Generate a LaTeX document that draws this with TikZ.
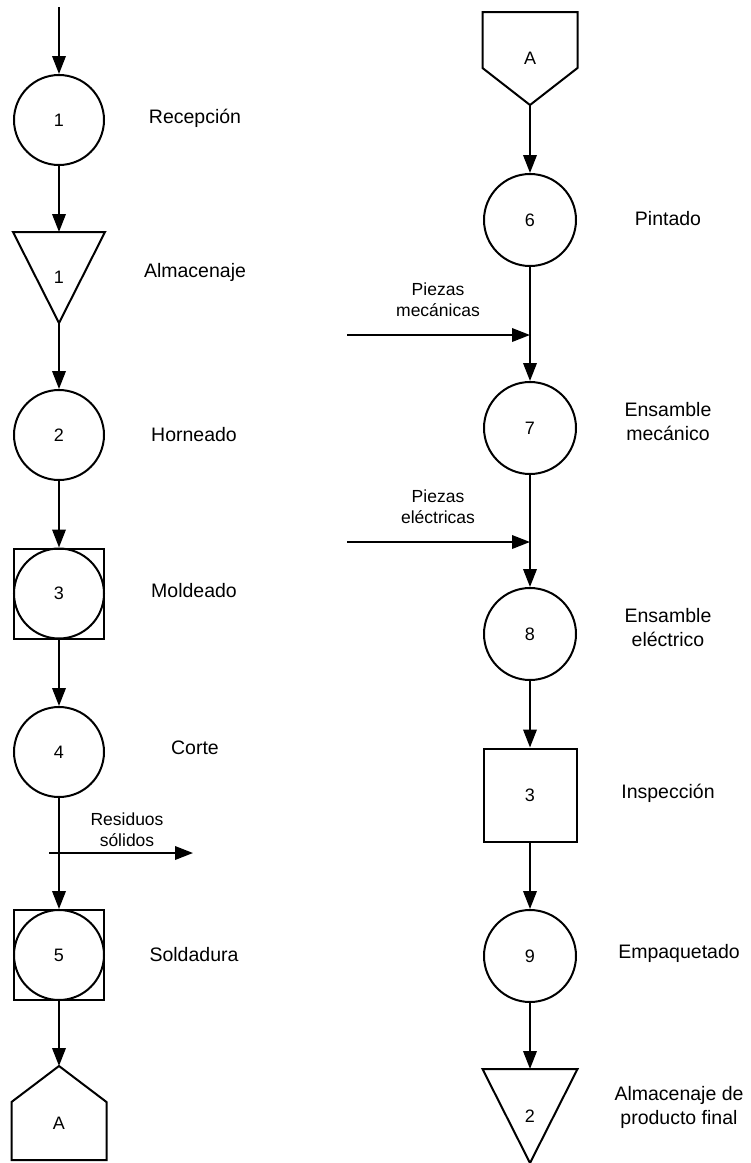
\documentclass[tikz,border=0pt]{standalone}
\usepackage{fontspec}
\setmainfont{Liberation Sans}
\usetikzlibrary{arrows.meta,calc}

\begin{document}
\begin{tikzpicture}[x=1pt,y=-1pt,line width=2pt,
  arr/.style={-{Triangle[length=18pt,width=13.5pt]}},
  numfont/.style={font=\fontsize{18}{20}\selectfont},
  op/.style={circle,draw,minimum size=#1,inner sep=0pt,numfont},
  op/.default=90pt,
  combo/.style={rectangle,draw,minimum size=90pt,inner sep=0pt,numfont},
  insp/.style={rectangle,draw,minimum size=93pt,inner sep=0pt,numfont},
  shapebox/.style={rectangle,draw=none,inner sep=0pt,minimum width=#1,numfont},
  lbl/.style={font=\fontsize{19.5}{24}\selectfont,align=center,inner sep=0pt},
  sml/.style={font=\fontsize{17.5}{21}\selectfont,align=center,inner sep=0pt}]
\useasboundingbox (0,0) rectangle (751,1163);

% ---------- left column ----------
\coordinate (start) at (59,7);
\node[op] (o1) at (59,120) {1};
\node[shapebox=90pt,minimum height=89pt] (s1) at (59,277.5) {1};
\draw[line join=miter] (s1.north west) -- (s1.north east) -- (s1.south) -- cycle;
\node[op] (o2) at (59,435) {2};
\node[combo] (c3) at (59,593.5) {3};
\draw (c3.center) circle[radius=45pt];
\node[op] (o4) at (59,752) {4};
\coordinate (r0) at (49,853);
\coordinate (r1) at (193,853);
\node[combo] (c5) at (59,955) {5};
\draw (c5.center) circle[radius=45pt];
\node[shapebox=93pt,minimum height=92pt] (a1) at (59,1113) {};
\node[numfont,inner sep=0pt] (a1t) at (59,1123) {A};
\draw[line join=miter] (a1.north) -- ($(a1.north east)+(0,36)$) -- (a1.south east)
  -- (a1.south west) -- ($(a1.north west)+(0,36)$) -- cycle;

\draw[arr] (start) -- (o1);
\draw[arr] (o1) -- (s1.north);
\draw[arr] (s1.south) -- (o2);
\draw[arr] (o2) -- (c3.north);
\draw[arr] (c3.south) -- (o4);
\draw[arr] (o4) -- (c5.north);
\draw[arr] (c5.south) -- (a1.north);
\draw[arr] (r0) -- (r1);

\node[lbl] (l1) at (195,118) {Recepción};
\node[lbl] (l2) at (195,272) {Almacenaje};
\node[lbl] (l3) at (194,435) {Horneado};
\node[lbl] (l4) at (194,591) {Moldeado};
\node[lbl] (l5) at (195,748) {Corte};
\node[sml] (l6) at (127,830) {Residuos\\sólidos};
\node[lbl] (l7) at (194,955) {Soldadura};

% ---------- right column ----------
\node[shapebox=93pt,minimum height=91pt] (a2) at (530,58.5) {A};
\draw[line join=miter] (a2.north west) -- (a2.north east) -- ($(a2.north east)+(0,56)$)
  -- (a2.south) -- ($(a2.north west)+(0,56)$) -- cycle;
\node[op=92pt] (o6) at (530,220) {6};
\coordinate (j1) at (530,335);
\coordinate (m0) at (347,335);
\node[op=92pt] (o7) at (530,428) {7};
\coordinate (j2) at (530,542);
\coordinate (e0) at (347,542);
\node[op=92pt] (o8) at (530,634) {8};
\node[insp] (i3) at (530,795) {3};
\node[op=92pt] (o9) at (530,956) {9};
\node[shapebox=93pt,minimum height=92pt] (s2) at (530,1116) {2};
\draw[line join=miter] (s2.north west) -- (s2.north east) -- (s2.south) -- cycle;

\draw[arr] (a2.south) -- (o6);
\draw[arr] (o6) -- (o7);
\draw[arr] (m0) -- (j1);
\draw[arr] (o7) -- (o8);
\draw[arr] (e0) -- (j2);
\draw[arr] (o8) -- (i3);
\draw[arr] (i3) -- (o9);
\draw[arr] (o9) -- (s2.north);

\node[lbl] (l8) at (668,219) {Pintado};
\node[sml] (l9) at (438,300) {Piezas\\mecánicas};
\node[lbl] (l10) at (668,422) {Ensamble\\mecánico};
\node[sml] (l11) at (438,507) {Piezas\\eléctricas};
\node[lbl] (l12) at (668,628) {Ensamble\\eléctrico};
\node[lbl] (l13) at (668,793) {Inspección};
\node[lbl] (l14) at (679,953) {Empaquetado};
\node[lbl] (l15) at (679,1107) {Almacenaje de\\producto final};
\end{tikzpicture}
\end{document}
